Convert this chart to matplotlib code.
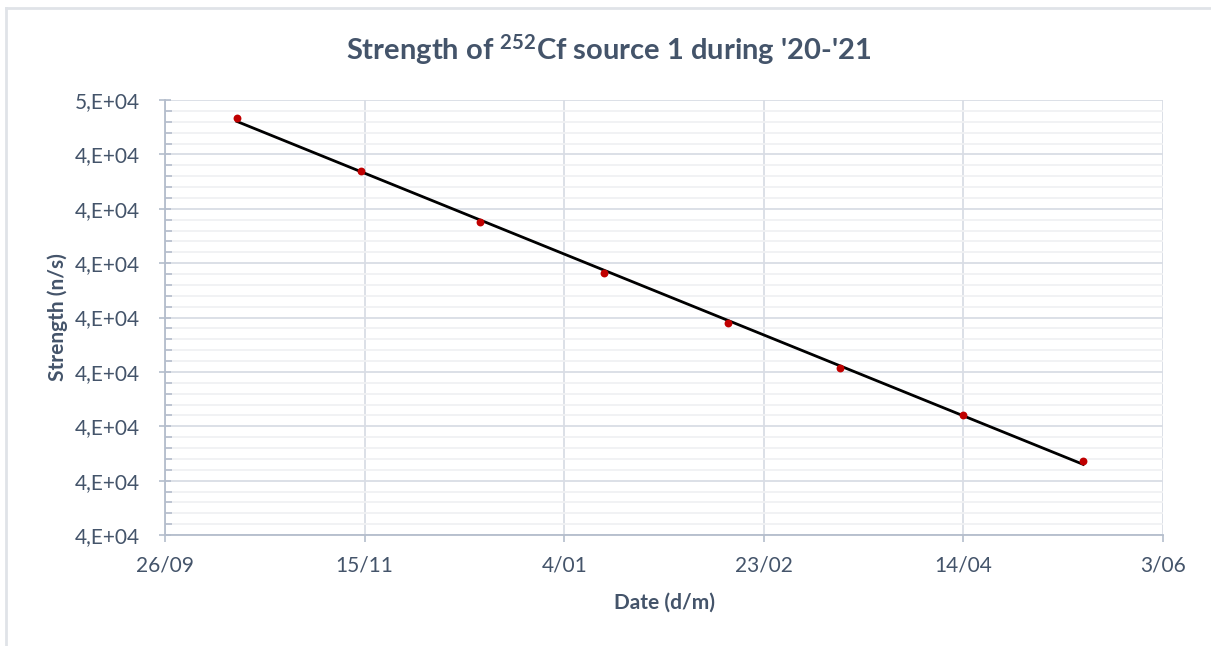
import datetime as dt

import matplotlib.dates as mdates
import matplotlib.pyplot as plt
import numpy as np
from matplotlib.lines import Line2D
from matplotlib.ticker import FixedLocator, MultipleLocator

# Measured source strength (14th of each month)
dates = [
    "2020-10-14", "2020-11-14", "2020-12-14", "2021-01-14",
    "2021-02-14", "2021-03-14", "2021-04-14", "2021-05-14",
]
strength = [44670, 43700, 42760, 41820, 40900, 40075, 39210, 38365]

x_tick_dates = ["2020-09-26", "2020-11-15", "2021-01-04", "2021-02-23", "2021-04-14", "2021-06-03"]
x_tick_labels = ["26/09", "15/11", "4/01", "23/02", "14/04", "3/06"]
y_ticks = [37000, 38000, 39000, 40000, 41000, 42000, 43000, 44000, 45000]
y_tick_labels = ["4,E+04"] * 8 + ["5,E+04"]

TEXT = "#44546A"
FONT = "Lato"

plt.rcParams["font.family"] = [FONT, "DejaVu Sans"]
plt.rcParams["mathtext.fontset"] = "custom"
plt.rcParams["mathtext.rm"] = FONT
plt.rcParams["mathtext.bf"] = f"{FONT}:bold"

x = mdates.date2num([dt.date.fromisoformat(d) for d in dates])
x_ticks = mdates.date2num([dt.date.fromisoformat(d) for d in x_tick_dates])
y = np.array(strength, dtype=float)

fig = plt.figure(figsize=(12.11, 6.46), dpi=100)
ax = fig.add_axes([0.1363, 0.1718, 0.9604 - 0.1363, 0.8452 - 0.1718])

# light chart-area frame (left and top edges visible)
fig.add_artist(Line2D([6 / 1211, 6 / 1211], [0, 1 - 8 / 646], transform=fig.transFigure,
                      color="#E0E3E8", lw=2.0))
fig.add_artist(Line2D([6 / 1211, 1], [1 - 8 / 646, 1 - 8 / 646], transform=fig.transFigure,
                      color="#E0E3E8", lw=2.0))

ax.set_xlim(x_ticks[0], x_ticks[-1])
ax.set_ylim(y_ticks[0], y_ticks[-1])

ax.xaxis.set_major_locator(FixedLocator(x_ticks))
ax.set_xticklabels(x_tick_labels)
ax.yaxis.set_major_locator(FixedLocator(y_ticks))
ax.yaxis.set_minor_locator(MultipleLocator(200))
ax.set_yticklabels(y_tick_labels)

ax.grid(which="major", axis="both", color="#D9DDE5", lw=1.3, zorder=0)
ax.grid(which="minor", axis="y", color="#F0F1F3", lw=1.3, zorder=0)
ax.set_axisbelow(True)

for side in ("top", "right"):
    ax.spines[side].set_visible(False)
for side in ("left", "bottom"):
    ax.spines[side].set_color("#B4BDCC")
    ax.spines[side].set_linewidth(1.3)

ax.tick_params(axis="x", which="major", direction="out", length=5, width=1.2,
               color="#B4BDCC", labelsize=15, labelcolor=TEXT, pad=10)
ax.tick_params(axis="y", which="major", direction="inout", length=8, width=1.2,
               color="#B4BDCC", labelsize=15, labelcolor=TEXT, pad=14)
ax.tick_params(axis="y", which="minor", direction="in", length=5, width=1.2,
               color="#B4BDCC")

# linear trendline over the measured range
coef = np.polyfit(x, y, 1)
xf = np.array([x.min(), x.max()])
ax.plot(xf, np.polyval(coef, xf), color="black", lw=2.0, zorder=3)
ax.scatter(x, y, s=32, color="#C00000", zorder=4, linewidths=0)

ax.set_xlabel("Date (d/m)", fontsize=15, fontweight="bold", color=TEXT, labelpad=12)
ax.set_ylabel("Strength (n/s)", fontsize=15, fontweight="bold", color=TEXT, labelpad=5)

fig.text(0.503, 1 - 50 / 646, r"Strength of $\mathbf{^{252}}$Cf source 1 during '20-'21",
         ha="center", va="center", fontsize=21, fontweight="bold", color=TEXT)

fig.savefig("out.png", dpi=100)
